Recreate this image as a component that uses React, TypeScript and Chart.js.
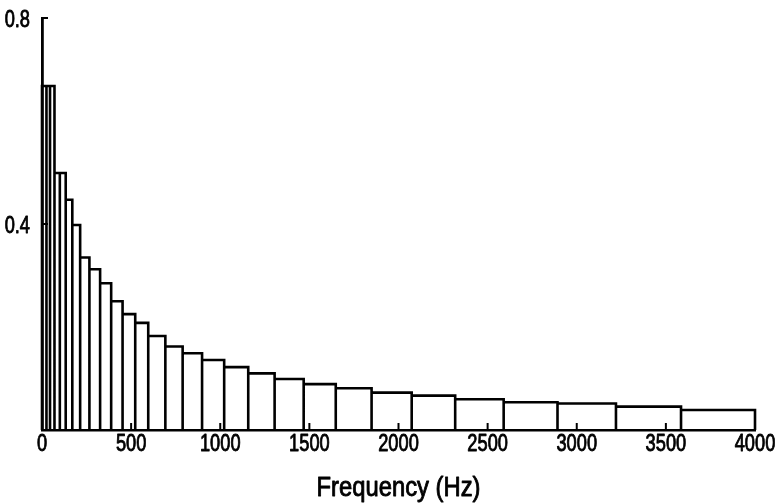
import React, { useEffect, useRef } from "react";
import { Chart, registerables } from "chart.js";

Chart.register(...registerables);

// Band edges (Hz) and bar heights
const bandEdgesHz = [
  0, 25, 45, 70, 100, 133, 170, 214, 266, 326, 388, 452, 523, 596, 692, 789,
  898, 1022, 1157, 1305, 1468, 1648, 1849, 2074, 2318, 2590, 2892, 3220, 3585, 4000,
];
const bandHeights = [
  0.668, 0.668, 0.668, 0.499, 0.499, 0.447, 0.398, 0.335, 0.312, 0.285, 0.25,
  0.225, 0.208, 0.1825, 0.162, 0.149, 0.136, 0.122, 0.11, 0.099, 0.089, 0.081,
  0.0725, 0.0667, 0.0596, 0.054, 0.0515, 0.0453, 0.0388,
];
const xTickStep = 500;
const yTickStep = 0.4;
const xMax = 4000;
const yMax = 0.8;
const xTitle = "Frequency (Hz)";

const FONT = "'Liberation Sans', Arial, sans-serif";

// draws horizontally condensed text (narrow face look)
function narrowText(ctx: any, text: string, x: number, y: number, size: number, sx: number, align: string) {
  ctx.save();
  ctx.font = `${size}px ${FONT}`;
  ctx.fillStyle = "#000";
  ctx.strokeStyle = "#000";
  ctx.lineWidth = 0.9;
  ctx.lineJoin = "round";
  ctx.textAlign = align;
  ctx.textBaseline = "alphabetic";
  ctx.translate(x, y);
  ctx.scale(sx, 1);
  ctx.fillText(text, 0, 0);
  ctx.strokeText(text, 0, 0);
  ctx.restore();
}

const axisDecor = {
  id: "axisDecor",
  afterDraw(chart: any) {
    const { ctx, chartArea } = chart;
    const x = chart.scales.x;
    const y = chart.scales.y;
    ctx.save();
    ctx.strokeStyle = "#000";
    ctx.lineWidth = 2;
    x.ticks.forEach((t: any) => {
      const px = x.getPixelForValue(t.value);
      ctx.beginPath();
      ctx.moveTo(px, chartArea.bottom);
      ctx.lineTo(px, chartArea.bottom - 7);
      ctx.stroke();
      narrowText(ctx, String(t.value), px, chartArea.bottom + 21, 24, 0.76, "center");
    });
    y.ticks.forEach((t: any) => {
      if (t.value === 0) return;
      const py = y.getPixelForValue(t.value);
      ctx.beginPath();
      ctx.moveTo(chartArea.left, py);
      ctx.lineTo(chartArea.left + 6, py);
      ctx.stroke();
      narrowText(ctx, Number(t.value).toFixed(1), chartArea.left - 12, py + 8.5, 24, 0.76, "right");
    });
    const cx = (chartArea.left + chartArea.right) / 2;
    narrowText(ctx, xTitle, cx, chartArea.bottom + 66, 28, 0.85, "center");
    ctx.restore();
  },
};

export default function App() {
  const ref = useRef<HTMLCanvasElement | null>(null);

  useEffect(() => {
    if (!ref.current) return;
    const outline: { x: number; y: number }[] = [];
    for (let i = 0; i < bandHeights.length; i++) {
      outline.push({ x: bandEdgesHz[i], y: 0 });
      outline.push({ x: bandEdgesHz[i], y: bandHeights[i] });
      outline.push({ x: bandEdgesHz[i + 1], y: bandHeights[i] });
      outline.push({ x: bandEdgesHz[i + 1], y: 0 });
    }
    const chart = new Chart(ref.current, {
      type: "line",
      data: {
        datasets: [
          {
            data: outline,
            borderColor: "#000",
            borderWidth: 2.6,
            pointRadius: 0,
            tension: 0,
            fill: false,
            clip: false as any,
            borderJoinStyle: "miter",
          } as any,
        ],
      },
      options: {
        animation: false,
        responsive: false,
        layout: { padding: { top: 18, right: 22, left: 0, bottom: 0 } },
        plugins: { legend: { display: false }, tooltip: { enabled: false } },
        scales: {
          x: {
            type: "linear",
            min: 0,
            max: xMax,
            ticks: { stepSize: xTickStep, display: false, autoSkip: false, maxRotation: 0 },
            grid: { display: true, drawOnChartArea: false, drawTicks: false },
            border: { display: true, color: "#000", width: 2.6 },
            title: { display: false, text: xTitle },
            afterFit: (s: any) => {
              s.height = 74;
            },
          },
          y: {
            min: 0,
            max: yMax,
            ticks: { stepSize: yTickStep, display: false },
            grid: { display: true, drawOnChartArea: false, drawTicks: false },
            border: { display: true, color: "#000", width: 2.8 },
            afterFit: (s: any) => {
              s.width = 42;
            },
          },
        },
      },
      plugins: [axisDecor],
    });
    return () => chart.destroy();
  }, []);

  return (
    <div style={{ position: "fixed", left: 0, top: 0, width: 777, height: 504, background: "#fff" }}>
      <canvas ref={ref} width={777} height={504} style={{ display: "block" }} />
    </div>
  );
}
